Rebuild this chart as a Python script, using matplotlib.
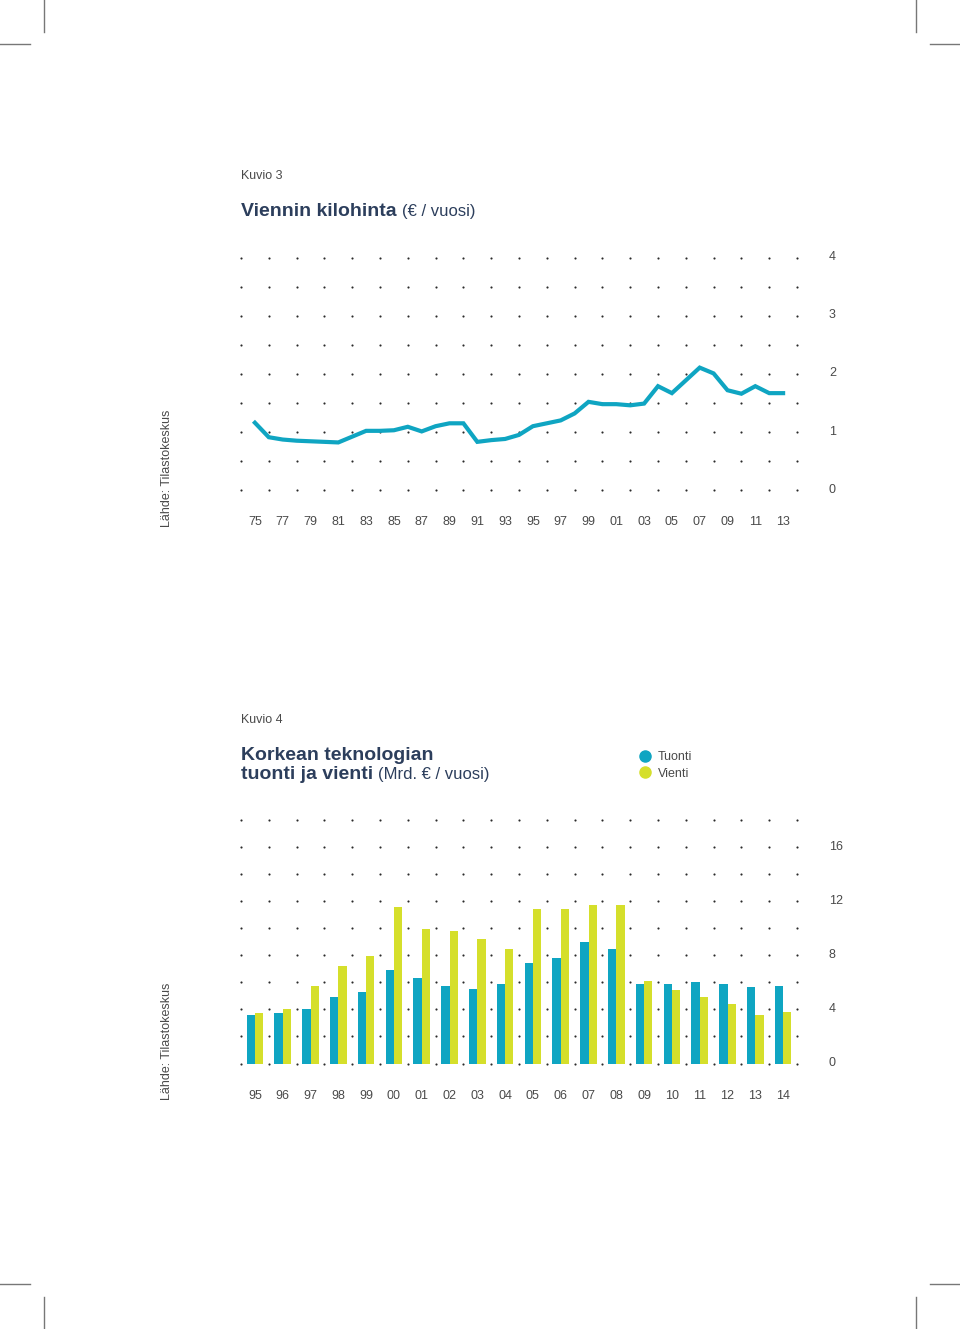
import numpy as np
import matplotlib
matplotlib.use('Agg')
import matplotlib.pyplot as plt
import matplotlib.transforms as mtransforms
from matplotlib.lines import Line2D

plt.rcParams['font.family'] = ['Liberation Sans', 'DejaVu Sans']

# ---- data ----
price_years = list(range(1975, 2014))
price = [1.16, 0.91, 0.87, 0.85, 0.84, 0.83, 0.82, 0.92, 1.02, 1.02,
         1.03, 1.09, 1.01, 1.10, 1.15, 1.15, 0.83, 0.86, 0.88, 0.95,
         1.10, 1.15, 1.20, 1.32, 1.52, 1.48, 1.48, 1.46, 1.49, 1.79,
         1.67, 1.89, 2.11, 2.01, 1.72, 1.66, 1.79, 1.67, 1.67]

bar_years = ['95', '96', '97', '98', '99', '00', '01', '02', '03', '04',
             '05', '06', '07', '08', '09', '10', '11', '12', '13', '14']
tuonti = [3.55, 3.75, 4.02, 4.94, 5.27, 6.93, 6.29, 5.71, 5.54, 5.84,
          7.45, 7.80, 8.99, 8.47, 5.91, 5.91, 6.06, 5.91, 5.66, 5.74]
vienti = [3.75, 4.02, 5.71, 7.23, 7.98, 11.58, 9.96, 9.76, 9.24, 8.47,
          11.45, 11.45, 11.75, 11.68, 6.11, 5.47, 4.94, 4.40, 3.60, 3.80]

TEAL = '#0fa5c2'
YELLOW = '#d5df2b'
NAVY = '#2c3e5c'
TXT = '#4a4a4a'
DOT = '#2a2a2a'

W, H = 960, 1329
fig = plt.figure(figsize=(W / 100, H / 100), dpi=100)


def fx(px):
    return px / W


def fy(py):
    return 1 - py / H


def crop_marks():
    kw = dict(color='#777777', lw=1.0, transform=fig.transFigure)
    for x in (44, 916):
        fig.add_artist(Line2D([fx(x), fx(x)], [fy(0), fy(32)], **kw))
        fig.add_artist(Line2D([fx(x), fx(x)], [fy(1297), fy(1329)], **kw))
    for y in (44, 1284):
        fig.add_artist(Line2D([fx(0), fx(30)], [fy(y), fy(y)], **kw))
        fig.add_artist(Line2D([fx(930), fx(960)], [fy(y), fy(y)], **kw))


def title(y_px, bold, light):
    r = fig.canvas.get_renderer()
    t = fig.text(fx(241), fy(y_px), bold, fontsize=14, fontweight='bold',
                 color=NAVY, va='baseline')
    bb = t.get_window_extent(renderer=r)
    fig.text(bb.x1 / W + fx(5), fy(y_px), light, fontsize=12, color=NAVY,
             va='baseline')


def clean(ax):
    for s in ax.spines.values():
        s.set_visible(False)
    ax.patch.set_alpha(0)
    ax.tick_params(length=0, labelsize=9, labelcolor=TXT)
    ax.tick_params(axis='x', pad=19)
    ax.tick_params(axis='y', pad=23)
    up = mtransforms.ScaledTranslation(0, 2 / 100, fig.dpi_scale_trans)
    for lab in ax.get_yticklabels():
        lab.set_horizontalalignment('left')
        lab.set_transform(lab.get_transform() + up)


crop_marks()

# ---- Kuvio 3 ----
fig.text(fx(241), fy(179), 'Kuvio 3', fontsize=9, color=TXT, va='baseline')
title(216, 'Viennin kilohinta', '(€ / vuosi)')

ax1 = fig.add_axes([fx(241), fy(490), fx(797 - 241), (490 - 258) / H])
gx, gy = np.meshgrid(np.arange(1974, 2015, 2), np.arange(0, 4.01, 0.5))
ax1.scatter(gx.ravel(), gy.ravel(), s=2.4, color=DOT, lw=0, clip_on=False)
ax1.plot(price_years, price, color=TEAL, lw=3, solid_joinstyle='miter',
         clip_on=False)
ax1.set_xlim(1974, 2014)
ax1.set_ylim(0, 4)
ax1.set_xticks(range(1975, 2014, 2))
ax1.set_xticklabels([f'{y % 100:02d}' for y in range(1975, 2014, 2)])
ax1.yaxis.tick_right()
ax1.set_yticks(range(0, 5))
clean(ax1)

fig.text(fx(167), fy(527), 'Lähde: Tilastokeskus', rotation=90, fontsize=9,
         color=TXT, ha='center', va='bottom')

# ---- Kuvio 4 ----
fig.text(fx(241), fy(723), 'Kuvio 4', fontsize=9, color=TXT, va='baseline')
fig.text(fx(241), fy(760), 'Korkean teknologian', fontsize=14,
         fontweight='bold', color=NAVY, va='baseline')
title(779, 'tuonti ja vienti', '(Mrd. € / vuosi)')

ax2 = fig.add_axes([fx(241), fy(1063.5), fx(797 - 241), (1063.5 - 820) / H])
x = np.arange(len(bar_years))
gx, gy = np.meshgrid(np.arange(-0.5, 19.6, 1), np.arange(0, 18.1, 2))
ax2.scatter(gx.ravel(), gy.ravel(), s=2.4, color=DOT, lw=0, clip_on=False,
            zorder=1)
ax2.bar(x - 0.15, tuonti, width=0.3, color=TEAL, label='Tuonti', zorder=2)
ax2.bar(x + 0.15, vienti, width=0.3, color=YELLOW, label='Vienti', zorder=2)
ax2.set_xlim(-0.5, 19.5)
ax2.set_ylim(0, 18)
ax2.set_xticks(x)
ax2.set_xticklabels(bar_years)
ax2.yaxis.tick_right()
ax2.set_yticks(range(0, 17, 4))
clean(ax2)

handles = [Line2D([], [], ls='', marker='o', markersize=8, color=TEAL),
           Line2D([], [], ls='', marker='o', markersize=8, color=YELLOW)]
leg = fig.legend(handles, ['Tuonti', 'Vienti'], loc='upper left',
                 bbox_to_anchor=(fx(632), fy(745)), frameon=False,
                 fontsize=9, handlelength=1.0, handletextpad=0.55,
                 labelspacing=0.35, borderpad=0)
for t in leg.get_texts():
    t.set_color(TXT)

fig.text(fx(167), fy(1100), 'Lähde: Tilastokeskus', rotation=90, fontsize=9,
         color=TXT, ha='center', va='bottom')

fig.savefig('out.png', dpi=100, facecolor='white')
